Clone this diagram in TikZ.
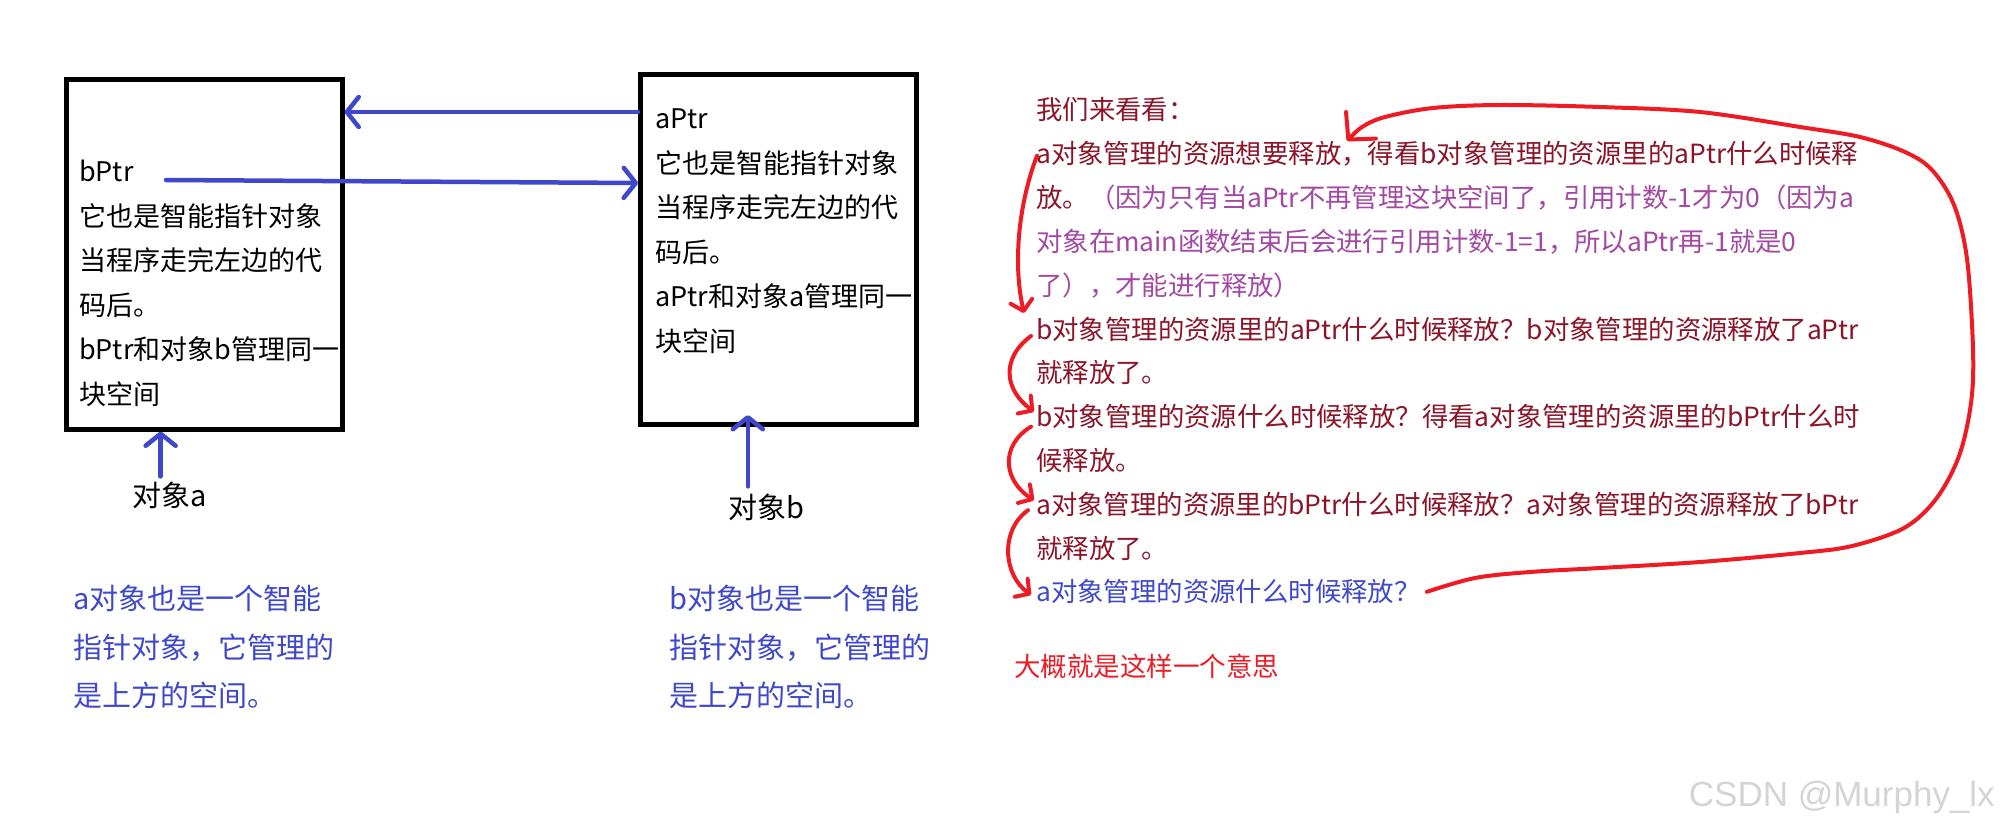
\documentclass[tikz,border=0pt]{standalone}
\usepackage{fontspec}
\setmainfont{Noto Sans CJK SC}
\newfontfamily\markfont{Liberation Sans}
\usetikzlibrary{arrows.meta}

\definecolor{penblue}{RGB}{63,72,204}
\definecolor{notered}{RGB}{139,20,40}
\definecolor{notepurple}{RGB}{163,73,164}
\definecolor{penred}{RGB}{237,28,36}
\definecolor{markgray}{RGB}{212,212,212}

\tikzset{
  resbox/.style={draw, line width=5pt, minimum width=276pt, minimum height=350pt, inner sep=0pt},
  boxtext/.style={align=left, inner sep=0pt, anchor=north west, font=\fontsize{27}{44.5}\selectfont},
  objlabel/.style={inner sep=0pt, font=\fontsize{29}{34}\selectfont},
  bluenote/.style={align=left, inner sep=0pt, anchor=north west, text=penblue, font=\fontsize{29}{48.5}\selectfont},
  ptrarrow/.style={penblue, line width=4.5pt, line cap=round, -{Straight Barb[round,length=12pt,width=30pt]}},
  stepline/.style={anchor=west, inner sep=0pt, text=notered, font=\fontsize{26.4}{30}\selectfont},
  redpen/.style={penred, line width=4pt, line cap=round, line join=round, -{Straight Barb[round,length=10pt,width=22pt]}}
}

\begin{document}
\begin{tikzpicture}[x=1pt,y=-1pt]
  \useasboundingbox (0,0) rectangle (2001,828);

  % the two managed spaces
  \node[resbox] (resA) at (204,254) {};
  \node[resbox] (resB) at (778.5,249.5) {};
  \node[boxtext] (resAtext) at (79,160) {bPtr\\它也是智能指针对象\\当程序走完左边的代\\码后。\\bPtr和对象b管理同一\\块空间};
  \node[boxtext] (resBtext) at (655,109) {aPtr\\它也是智能指针对象\\当程序走完左边的代\\码后。\\aPtr和对象a管理同一\\块空间};

  % pointers between them
  \coordinate (bptrtail) at (166,180);
  \draw[ptrarrow] (resB.west |- 0,112) -- (resA.east |- 0,112);
  \draw[ptrarrow] (bptrtail) -- (resB.west |- 0,183);

  % the smart pointer objects
  \node[objlabel] (objA) at (170,495) {对象a};
  \node[objlabel] (objB) at (766,507) {对象b};
  \draw[ptrarrow] ([xshift=28pt,yshift=5pt]objA.north west) -- ([xshift=28pt]objA.north west |- resA.south);
  \draw[ptrarrow] ([xshift=20pt,yshift=7pt]objB.north west) -- ([xshift=20pt,yshift=12pt]objB.north west |- resB.south);

  \node[bluenote] (noteA) at (73,585) {a对象也是一个智能\\指针对象，它管理的\\是上方的空间。};
  \node[bluenote] (noteB) at (669,585) {b对象也是一个智能\\指针对象，它管理的\\是上方的空间。};

  % the reasoning on the right
  \node[stepline] (l1) at (1036,110) {我们来看看：};
  \node[stepline] (l2) at (1036,153.8) {a对象管理的资源想要释放，得看b对象管理的资源里的aPtr什么时候释};
  \node[stepline] (l3) at (1036,197.6) {放。\textcolor{notepurple}{（因为只有当aPtr不再管理这块空间了，引用计数-1才为0（因为a}};
  \node[stepline, text=notepurple] (l4) at (1036,241.4) {对象在main函数结束后会进行引用计数-1=1，所以aPtr再-1就是0};
  \node[stepline, text=notepurple] (l5) at (1036,285.2) {了），才能进行释放）};
  \node[stepline] (l6) at (1036,329) {b对象管理的资源里的aPtr什么时候释放？b对象管理的资源释放了aPtr};
  \node[stepline] (l7) at (1036,372.8) {就释放了。};
  \node[stepline] (l8) at (1036,416.6) {b对象管理的资源什么时候释放？得看a对象管理的资源里的bPtr什么时};
  \node[stepline] (l9) at (1036,460.4) {候释放。};
  \node[stepline] (l10) at (1036,504.2) {a对象管理的资源里的bPtr什么时候释放？a对象管理的资源释放了bPtr};
  \node[stepline] (l11) at (1036,548) {就释放了。};
  \node[stepline, text=penblue] (l12) at (1036,591.8) {a对象管理的资源什么时候释放？};
  \node[anchor=west, inner sep=0pt, text=penred, font=\fontsize{26.5}{30}\selectfont] (summary) at (1014,666) {大概就是这样一个意思};

  % red hand strokes
  \draw[redpen] ([xshift=1pt,yshift=-2pt]l2.west) .. controls +(-17,44) and +(-12,-53) .. ([xshift=-12pt,yshift=16pt]l6.west);
  \draw[redpen] ([xshift=-5pt,yshift=-7pt]l6.west) .. controls +(-31,23) and +(-29,-21) .. ([xshift=-2pt,yshift=5pt]l8.west);
  \draw[redpen] ([xshift=-5pt,yshift=-10pt]l8.west) .. controls +(-31,19) and +(-31,-20) .. ([xshift=-2pt,yshift=4pt]l10.west);
  \draw[redpen] ([xshift=-8pt,yshift=-6pt]l10.west) .. controls +(-28,20) and +(-28,-20) .. ([xshift=-5pt,yshift=-3pt]l12.west);
  \draw[redpen, -{Straight Barb[round,length=19pt,width=40pt]}] plot[smooth, tension=0.55] coordinates {([xshift=6pt]l12.east) (1475,578) (1530,572) (1600,568) (1700,562) (1800,553) (1852,546) (1904,528) (1936,499) (1959,456) (1971,403) (1973,349) (1967,259) (1954,205) (1932,170) (1905,152) (1860,137) (1800,127) (1700,112) (1600,107) (1500,105) (1433,108) (1385,117) (1362,127) (1347,141)};

  \node[anchor=east, inner sep=0pt, text=markgray, font=\markfont\fontsize{35}{40}\selectfont] (mark) at (1995,797) {CSDN @Murphy\_lx};
\end{tikzpicture}
\end{document}
